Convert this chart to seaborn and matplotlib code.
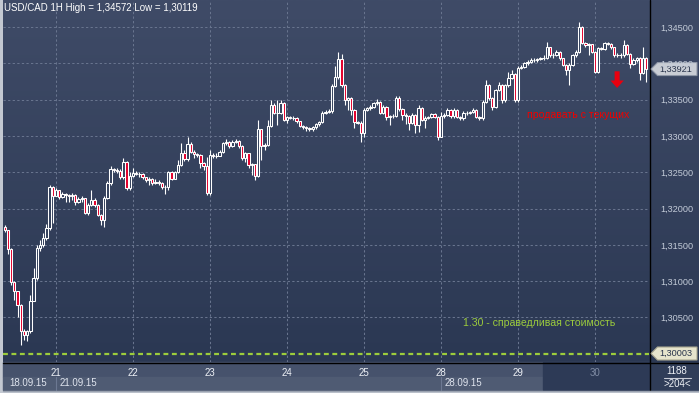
import numpy as np
import pandas as pd
import matplotlib
matplotlib.use("Agg")
import matplotlib.pyplot as plt
import seaborn as sns
from matplotlib.patches import Rectangle, Polygon
from matplotlib.colors import LinearSegmentedColormap

# ---------------- data (USD/CAD, 1H candles, 18.09.15 - 30.09.15) ----------------
first_open = 1.3175
closes = [1.3170, 1.3144, 1.3099, 1.3086, 1.3067, 1.3031, 1.3026, 1.3031, 1.3073, 1.3104,
          1.3146, 1.3150, 1.3159, 1.3173, 1.3230, 1.3217, 1.3225, 1.3216, 1.3220, 1.3219,
          1.3217, 1.3219, 1.3209, 1.3213, 1.3214, 1.3194, 1.3205, 1.3212, 1.3205, 1.3191,
          1.3184, 1.3215, 1.3235, 1.3254, 1.3253, 1.3252, 1.3243, 1.3264, 1.3228, 1.3245,
          1.3249, 1.3248, 1.3247, 1.3243, 1.3239, 1.3241, 1.3235, 1.3237, 1.3235, 1.3230,
          1.3229, 1.3250, 1.3241, 1.3250, 1.3260, 1.3276, 1.3268, 1.3289, 1.3278, 1.3275,
          1.3274, 1.3263, 1.3259, 1.3221, 1.3274, 1.3272, 1.3273, 1.3278, 1.3290, 1.3292,
          1.3286, 1.3292, 1.3293, 1.3286, 1.3270, 1.3276, 1.3260, 1.3261, 1.3245, 1.3309,
          1.3286, 1.3288, 1.3314, 1.3343, 1.3332, 1.3331, 1.3345, 1.3322, 1.3326, 1.3325,
          1.3324, 1.3320, 1.3314, 1.3312, 1.3311, 1.3309, 1.3312, 1.3316, 1.3319, 1.3332,
          1.3333, 1.3334, 1.3369, 1.3381, 1.3406, 1.3370, 1.3349, 1.3352, 1.3336, 1.3319,
          1.3318, 1.3304, 1.3336, 1.3338, 1.3340, 1.3345, 1.3347, 1.3332, 1.3340, 1.3326,
          1.3327, 1.3328, 1.3352, 1.3337, 1.3329, 1.3328, 1.3318, 1.3329, 1.3315, 1.3338,
          1.3322, 1.3325, 1.3326, 1.3330, 1.3326, 1.3299, 1.3327, 1.3329, 1.3336, 1.3327,
          1.3336, 1.3326, 1.3325, 1.3332, 1.3331, 1.3333, 1.3336, 1.3326, 1.3325, 1.3347,
          1.3370, 1.3352, 1.3340, 1.3363, 1.3370, 1.3349, 1.3370, 1.3380, 1.3385, 1.3349,
          1.3394, 1.3395, 1.3400, 1.3402, 1.3405, 1.3404, 1.3406, 1.3407, 1.3408, 1.3422,
          1.3411, 1.3412, 1.3416, 1.3407, 1.3398, 1.3391, 1.3398, 1.3411, 1.3416, 1.3450,
          1.3428, 1.3425, 1.3426, 1.3416, 1.3388, 1.3421, 1.3420, 1.3428, 1.3427, 1.3422,
          1.3411, 1.3412, 1.3411, 1.3425, 1.3413, 1.3399, 1.3405, 1.3407, 1.3387, 1.3407,
          1.33921]
highs = [1.3177, 1.3171, 1.3145, 1.3100, 1.3087, 1.3068, 1.3034, 1.3033, 1.3081, 1.3118,
         1.3150, 1.3157, 1.3166, 1.3179, 1.3232, 1.3231, 1.3228, 1.3225, 1.3223, 1.3221,
         1.3220, 1.3221, 1.3220, 1.3216, 1.3217, 1.3215, 1.3207, 1.3225, 1.3214, 1.3206,
         1.3192, 1.3217, 1.3238, 1.3259, 1.3256, 1.3256, 1.3254, 1.3270, 1.3265, 1.3250,
         1.3256, 1.3252, 1.3250, 1.3249, 1.3244, 1.3243, 1.3242, 1.3240, 1.3239, 1.3236,
         1.3232, 1.3252, 1.3251, 1.3252, 1.3267, 1.3290, 1.3281, 1.3299, 1.3291, 1.3280,
         1.3277, 1.3275, 1.3264, 1.3271, 1.3281, 1.3276, 1.3276, 1.3280, 1.3292, 1.3296,
         1.3293, 1.3294, 1.3296, 1.3294, 1.3287, 1.3278, 1.3277, 1.3263, 1.3262, 1.3322,
         1.3310, 1.3290, 1.3322, 1.3349, 1.3345, 1.3349, 1.3349, 1.3347, 1.3328, 1.3328,
         1.3328, 1.3326, 1.3321, 1.3315, 1.3314, 1.3312, 1.3314, 1.3318, 1.3321, 1.3334,
         1.3336, 1.3337, 1.3371, 1.3396, 1.3416, 1.3413, 1.3372, 1.3354, 1.3354, 1.3337,
         1.3321, 1.3320, 1.3338, 1.3340, 1.3342, 1.3347, 1.3351, 1.3348, 1.3342, 1.3341,
         1.3329, 1.3330, 1.3355, 1.3355, 1.3338, 1.3331, 1.3329, 1.3331, 1.3330, 1.3343,
         1.3340, 1.3327, 1.3328, 1.3332, 1.3331, 1.3327, 1.3333, 1.3331, 1.3338, 1.3337,
         1.3338, 1.3337, 1.3327, 1.3334, 1.3334, 1.3335, 1.3338, 1.3337, 1.3328, 1.3349,
         1.3377, 1.3371, 1.3353, 1.3365, 1.3374, 1.3371, 1.3372, 1.3388, 1.3391, 1.3386,
         1.3396, 1.3397, 1.3402, 1.3404, 1.3407, 1.3407, 1.3408, 1.3409, 1.3411, 1.3429,
         1.3423, 1.3414, 1.3418, 1.3417, 1.3408, 1.3399, 1.3400, 1.3413, 1.3418, 1.3457,
         1.3451, 1.3429, 1.3428, 1.3427, 1.3417, 1.3423, 1.3423, 1.3430, 1.3430, 1.3428,
         1.3423, 1.3414, 1.3414, 1.3432, 1.3426, 1.3414, 1.3407, 1.3409, 1.3409, 1.3422,
         1.3409]
lows = [1.3168, 1.3138, 1.3095, 1.3074, 1.3051, 1.3012, 1.3019, 1.3018, 1.3029, 1.3072,
        1.3101, 1.3142, 1.3147, 1.3157, 1.3170, 1.3180, 1.3220, 1.3213, 1.3215, 1.3209,
        1.3209, 1.3212, 1.3205, 1.3207, 1.3209, 1.3193, 1.3191, 1.3203, 1.3202, 1.3190,
        1.3177, 1.3175, 1.3213, 1.3233, 1.3250, 1.3249, 1.3240, 1.3241, 1.3225, 1.3226,
        1.3243, 1.3246, 1.3244, 1.3241, 1.3237, 1.3232, 1.3232, 1.3234, 1.3233, 1.3227,
        1.3220, 1.3225, 1.3239, 1.3240, 1.3249, 1.3258, 1.3266, 1.3266, 1.3276, 1.3270,
        1.3271, 1.3256, 1.3253, 1.3219, 1.3219, 1.3270, 1.3270, 1.3272, 1.3276, 1.3288,
        1.3284, 1.3285, 1.3290, 1.3284, 1.3267, 1.3264, 1.3256, 1.3246, 1.3239, 1.3243,
        1.3267, 1.3281, 1.3286, 1.3312, 1.3330, 1.3315, 1.3330, 1.3320, 1.3318, 1.3323,
        1.3322, 1.3318, 1.3312, 1.3310, 1.3307, 1.3307, 1.3307, 1.3310, 1.3314, 1.3318,
        1.3330, 1.3331, 1.3332, 1.3367, 1.3379, 1.3368, 1.3343, 1.3336, 1.3329, 1.3311,
        1.3316, 1.3292, 1.3298, 1.3334, 1.3336, 1.3338, 1.3343, 1.3330, 1.3330, 1.3322,
        1.3315, 1.3324, 1.3326, 1.3335, 1.3322, 1.3316, 1.3308, 1.3316, 1.3304, 1.3305,
        1.3320, 1.3311, 1.3323, 1.3324, 1.3324, 1.3295, 1.3298, 1.3325, 1.3327, 1.3325,
        1.3325, 1.3324, 1.3322, 1.3322, 1.3329, 1.3330, 1.3332, 1.3324, 1.3322, 1.3322,
        1.3345, 1.3350, 1.3336, 1.3338, 1.3362, 1.3345, 1.3347, 1.3368, 1.3378, 1.3347,
        1.3347, 1.3392, 1.3393, 1.3398, 1.3400, 1.3402, 1.3402, 1.3404, 1.3405, 1.3406,
        1.3409, 1.3408, 1.3410, 1.3405, 1.3396, 1.3384, 1.3370, 1.3396, 1.3409, 1.3414,
        1.3426, 1.3423, 1.3411, 1.3414, 1.3387, 1.3387, 1.3418, 1.3419, 1.3425, 1.3420,
        1.3409, 1.3409, 1.3408, 1.3409, 1.3411, 1.3394, 1.3397, 1.3402, 1.3377, 1.3385,
        1.3374]

day_labels = ["21", "22", "23", "24", "25", "28", "29", "30"]
day_first_candle = [16, 40, 64, 88, 112, 136, 160, 184]
date_labels = ["18.09.15", "21.09.15", "28.09.15"]
date_first_candle = [0, 16, 136]
price_ticks = [1.305, 1.310, 1.315, 1.320, 1.325, 1.330, 1.335, 1.340, 1.345]
price_tick_labels = ["1,30500", "1,31000", "1,31500", "1,32000", "1,32500",
                     "1,33000", "1,33500", "1,34000", "1,34500"]
fair_value = 1.30003
last_price = closes[-1]
title = "USD/CAD 1H High = 1,34572 Low = 1,30119"
sell_text = "продавать с текущих"
fair_text = "1.30 - справедливая стоимость"
bar_count_text = "1188"
shift_text = ">204<"

# ---------------- styling ----------------
sns.set_theme(style="dark")
plt.rcParams["font.family"] = ["Liberation Sans", "DejaVu Sans"]

W, H = 699, 393
fig = plt.figure(figsize=(W / 100, H / 100), dpi=100)
fig.patch.set_facecolor("#c3c8d1")


def fr(x0, y0, x1, y1):
    return [x0 / W, 1 - y1 / H, (x1 - x0) / W, (y1 - y0) / H]


# gradient background behind chart + right price panel
bg = fig.add_axes(fr(3, 0, 699, 362), zorder=0)
cmap = LinearSegmentedColormap.from_list("bg", ["#2b3853", "#3f4b67"])
grad = np.linspace(0, 1, 256).reshape(-1, 1)
bg.imshow(grad, aspect="auto", cmap=cmap, origin="lower", extent=[0, 1, 0, 1])
bg.set_axis_off()

# main price axes
ax = fig.add_axes(fr(3, 0, 649, 362), zorder=2)
ax.set_facecolor("none")
n = len(closes)
df = pd.DataFrame({"open": [first_open] + closes[:-1], "high": highs,
                   "low": lows, "close": closes})
df["idx"] = np.arange(n)
ax.set_xlim(-0.53, 200.84)
ax.set_ylim(1.29886, 1.34872)
for s in ax.spines.values():
    s.set_visible(False)

ax.set_xticks(day_first_candle)
ax.set_xticklabels(day_labels)
ax.set_yticks(price_ticks)
ax.set_yticklabels(price_tick_labels)
ax.yaxis.tick_right()
ax.tick_params(axis="y", length=0, pad=8, labelsize=6.6, labelcolor="#c3cbd8")
ax.tick_params(axis="x", length=0, pad=4.2, labelsize=7, labelcolor="#eef1f6")
ax.get_xticklabels()[-1].set_color("#7f8ba3")
ax.grid(True, color="#68748e", ls=(0, (2.2, 2.2)), lw=0.75)

# candles
ax.vlines(df["idx"], df["low"], df["high"], colors="white", lw=0.8, zorder=3)
up = df["close"] >= df["open"]
body_lo = np.minimum(df["open"], df["close"])
body_h = (df["close"] - df["open"]).abs()
ax.bar(df["idx"][up], body_h[up], bottom=body_lo[up], width=0.72,
       color="#34415c", edgecolor="white", lw=0.75, zorder=4)
ax.bar(df["idx"][~up], body_h[~up], bottom=body_lo[~up], width=0.72,
       color="#e3002b", edgecolor="white", lw=0.75, zorder=4)

# fair value line
ax.axhline(fair_value, color="#9ccc3c", lw=1.6, ls=(0, (2.2, 1.6)), zorder=3)

# annotations
ax.text(142.9, 1.3042, fair_text, color="#9ccc3c", fontsize=7.6,
        ha="left", va="center", zorder=5)
ax.text(162.8, 1.3329, sell_text, color="#f00000", fontsize=7.6,
        ha="left", va="center", zorder=5)
ax.annotate("", xy=(190.9, 1.3366), xytext=(190.9, 1.3389),
            arrowprops=dict(arrowstyle="simple,head_length=0.45,head_width=0.8,tail_width=0.3",
                            color="#e8000f", lw=0, mutation_scale=12,
                            shrinkA=0, shrinkB=0), zorder=5)

# overlay for frame / panels (pixel space)
ov = fig.add_axes([0, 0, 1, 1], zorder=1)
ov.set_xlim(0, W)
ov.set_ylim(H, 0)
ov.set_axis_off()
ov.patch.set_alpha(0)

# bottom time panel
ov.add_patch(Rectangle((3, 362), 646, 15, color="#46526c", zorder=1))
ov.add_patch(Rectangle((3, 377), 646, 13, color="#4f5b73", zorder=1))
ov.add_patch(Rectangle((543, 362), 106, 28, color="#2d3a56", zorder=1.5))
ov.add_patch(Rectangle((649, 362), 50, 28, color="#303d58", zorder=1))
ov.plot([3, 699], [362.5, 362.5], color="black", lw=1, zorder=3)
ov.plot([649.5, 649.5], [0, 390], color="black", lw=1, zorder=3)
ov.plot([3, 699], [390.5, 390.5], color="#9aa2b0", lw=1, zorder=3)
ov.plot([664, 691], [377.5, 377.5], color="#c8ccd6", lw=0.8, zorder=3)
ov.text(677, 371, bar_count_text, color="#eef1f6", fontsize=7, ha="center", va="center", zorder=4)
ov.text(677, 384, shift_text, color="#eef1f6", fontsize=7, ha="center", va="center", zorder=4)

fig.canvas.draw()


def px_x(i):
    return ax.transData.transform((i, 1.32))[0]


def px_y(p):
    return H - ax.transData.transform((0, p))[1]


for lab, i in zip(date_labels, date_first_candle):
    x = px_x(i)
    if i > 0:
        ov.plot([x, x], [377, 390], color="#6c7892", lw=0.8, zorder=2)
        ov.text(x + 4, 383.5, lab, color="#dfe4ee", fontsize=7, ha="left", va="center", zorder=4)
    else:
        ov.text(x + 5, 383.5, lab, color="#dfe4ee", fontsize=7, ha="left", va="center", zorder=4)

# price tags on the right scale
for p, fc, ec in [(last_price, "#c9cdd4", "#8e96a6"), (fair_value, "#e6e4cc", "#a8a690")]:
    y = px_y(p)
    pts = [(651, y), (657.5, y - 6.5), (697, y - 6.5), (697, y + 6.5), (657.5, y + 6.5)]
    ov.add_patch(Polygon(pts, closed=True, fc=fc, ec=ec, lw=0.8, zorder=5))
    ov.text(659, y + 0.3, f"{p:.5f}".replace(".", ","), color="#27324a",
            fontsize=6.6, ha="left", va="center", zorder=6)

fig.text(4 / W, 1 - 8 / H, title, color="white", fontsize=7, ha="left", va="center", zorder=10)

fig.savefig("out.png", dpi=100)
